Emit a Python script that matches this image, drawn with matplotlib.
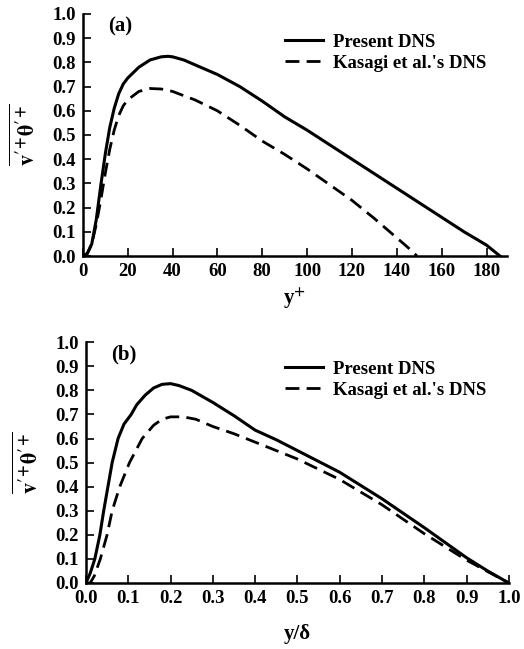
import matplotlib
matplotlib.use("Agg")
import matplotlib.pyplot as plt

# Panel (a): y+ coordinates
a_present_x = [0, 2, 4, 6, 8, 10, 12, 14, 16, 18, 20, 25, 30, 35, 38, 40, 45, 50, 55, 60,
               70, 80, 90, 100, 110, 120, 130, 140, 150, 160, 170, 180, 186]
a_present_y = [0.0, 0.01, 0.05, 0.15, 0.29, 0.42, 0.53, 0.61, 0.67, 0.71, 0.735, 0.78, 0.81,
               0.823, 0.825, 0.823, 0.81, 0.79, 0.77, 0.75, 0.70, 0.64, 0.575, 0.52, 0.46,
               0.40, 0.34, 0.28, 0.22, 0.16, 0.10, 0.045, 0.0]
a_kasagi_x = [0, 2, 4, 6, 8, 10, 12, 14, 16, 18, 20, 25, 30, 35, 40, 50, 60, 70, 80, 90,
              100, 110, 120, 130, 140, 145, 149]
a_kasagi_y = [0.0, 0.01, 0.05, 0.13, 0.23, 0.34, 0.44, 0.52, 0.58, 0.62, 0.645, 0.68, 0.692,
              0.69, 0.68, 0.645, 0.60, 0.54, 0.475, 0.42, 0.36, 0.295, 0.23, 0.155, 0.075,
              0.035, 0.0]

# Panel (b): y/delta coordinates
b_present_x = [0.0, 0.01, 0.021, 0.033, 0.042, 0.052, 0.062, 0.076, 0.09, 0.107, 0.12, 0.14,
               0.16, 0.18, 0.20, 0.22, 0.25, 0.30, 0.35, 0.40, 0.45, 0.50, 0.60, 0.70, 0.80,
               0.90, 0.95, 1.0]
b_present_y = [0.0, 0.04, 0.1, 0.2, 0.3, 0.4, 0.5, 0.6, 0.66, 0.70, 0.74, 0.78, 0.81, 0.825,
               0.828, 0.82, 0.80, 0.75, 0.695, 0.635, 0.595, 0.55, 0.46, 0.35, 0.23, 0.105,
               0.05, 0.0]
b_kasagi_x = [0.0, 0.01, 0.02, 0.034, 0.05, 0.062, 0.08, 0.103, 0.133, 0.16, 0.18, 0.20, 0.23,
              0.26, 0.30, 0.35, 0.40, 0.45, 0.50, 0.60, 0.70, 0.80, 0.85, 0.90, 1.0]
b_kasagi_y = [0.0, 0.0, 0.03, 0.1, 0.2, 0.3, 0.4, 0.5, 0.6, 0.655, 0.68, 0.69, 0.69, 0.68,
              0.65, 0.62, 0.585, 0.55, 0.515, 0.43, 0.325, 0.205, 0.15, 0.095, 0.0]

yticks = [0.0, 0.1, 0.2, 0.3, 0.4, 0.5, 0.6, 0.7, 0.8, 0.9, 1.0]
a_xticks = [0, 20, 40, 60, 80, 100, 120, 140, 160, 180]
b_xticks = [0.0, 0.1, 0.2, 0.3, 0.4, 0.5, 0.6, 0.7, 0.8, 0.9, 1.0]
legend_labels = ["Present DNS", "Kasagi et al.'s DNS"]

plt.rcParams['font.family'] = ['Liberation Serif', 'DejaVu Serif']
plt.rcParams['font.weight'] = 'bold'
plt.rcParams['mathtext.fontset'] = 'stix'

fig = plt.figure(figsize=(5.24, 6.49), dpi=100)
ax1 = fig.add_axes([0.158, 0.6055, 0.809, 0.373])
ax2 = fig.add_axes([0.164, 0.1017, 0.807, 0.371])

ylab = r"$\overline{\mathbf{v}'^{\mathbf{+}}\mathbf{\theta}'^{\mathbf{+}}}$"

def style(ax, xticks, xlim, fmt):
    for s in ['top', 'right']:
        ax.spines[s].set_visible(False)
    for s in ['left', 'bottom']:
        ax.spines[s].set_linewidth(1.8)
    ax.set_ylim(0, 1.0)
    ax.set_xlim(*xlim)
    ax.set_yticks(yticks)
    ax.set_yticklabels([f"{v:.1f}" for v in yticks])
    ax.set_xticks(xticks)
    ax.set_xticklabels([fmt(v) for v in xticks])
    ax.tick_params(direction='in', length=6, width=1.2, labelsize=13.5, pad=5)
    for lab in ax.get_xticklabels() + ax.get_yticklabels():
        lab.set_fontweight('bold')
    ax.set_ylabel(ylab, fontsize=16, labelpad=9)

def add_legend(ax, y_top):
    ax.legend(loc='upper left', bbox_to_anchor=(0.544, y_top), bbox_transform=fig.transFigure,
              frameon=False, prop={'size': 13.5, 'weight': 'bold'}, handlelength=2.0,
              handletextpad=0.55, labelspacing=0.2, borderpad=0, borderaxespad=0)

# Panel (a)
ax1.plot(a_present_x, a_present_y, color='black', lw=2.2, label=legend_labels[0])
l, = ax1.plot(a_kasagi_x, a_kasagi_y, color='black', lw=2.0, label=legend_labels[1])
l.set_dashes((5, 2.6))
style(ax1, a_xticks, (0, 189), lambda v: f"{v:d}")
ax1.set_xlabel(r"y$^{\mathbf{+}}$", fontsize=15, fontweight='bold', labelpad=4)
ax1.text(0.06, 0.95, "(a)", transform=ax1.transAxes, fontsize=15, fontweight='bold',
         va='center', ha='left')
add_legend(ax1, 0.948)

# Panel (b)
ax2.plot(b_present_x, b_present_y, color='black', lw=2.2, label=legend_labels[0])
l2, = ax2.plot(b_kasagi_x, b_kasagi_y, color='black', lw=2.0, label=legend_labels[1])
l2.set_dashes((5, 2.6))
style(ax2, b_xticks, (0, 1.0), lambda v: f"{v:.1f}")
ax2.set_xlabel("y/δ", fontsize=15, fontweight='bold', labelpad=12)
ax2.text(0.06, 0.95, "(b)", transform=ax2.transAxes, fontsize=15, fontweight='bold',
         va='center', ha='left')
add_legend(ax2, 0.444)

fig.savefig("out.png", dpi=100)
